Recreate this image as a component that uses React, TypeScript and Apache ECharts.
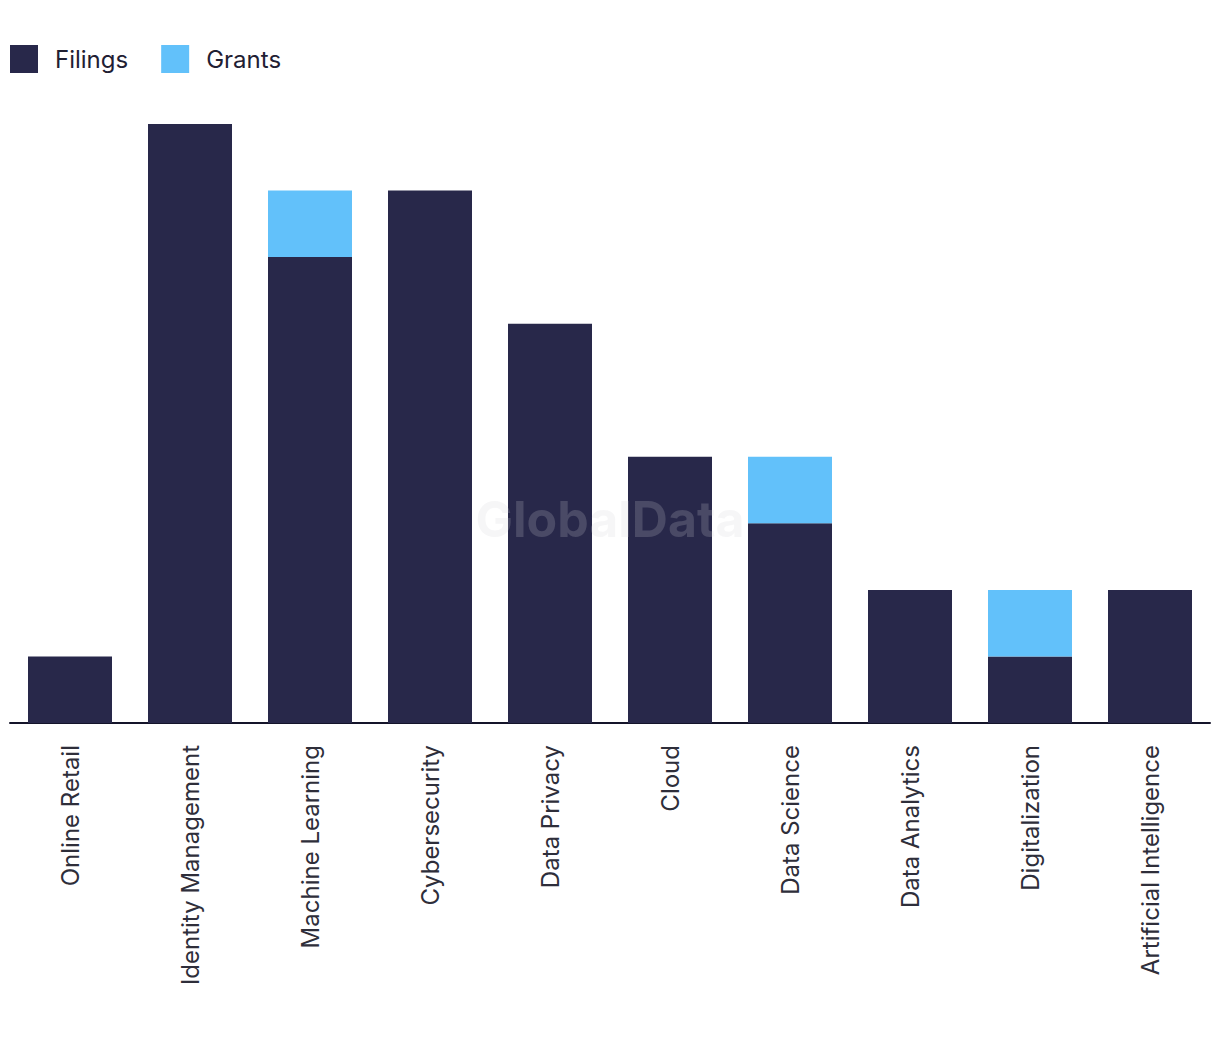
import React, { useEffect, useRef } from "react";
import * as echarts from "echarts";

const categories = [
  "Online Retail",
  "Identity Management",
  "Machine Learning",
  "Cybersecurity",
  "Data Privacy",
  "Cloud",
  "Data Science",
  "Data Analytics",
  "Digitalization",
  "Artificial Intelligence",
];
const filings = [1, 9, 7, 8, 6, 4, 3, 2, 1, 2];
const grants = [0, 0, 1, 0, 0, 0, 1, 0, 1, 0];

const FONT = "Inter, 'Liberation Sans', sans-serif";

export default function App() {
  const ref = useRef<HTMLDivElement>(null);
  useEffect(() => {
    document.body.style.margin = "0";
    const chart = echarts.init(ref.current!, null, { renderer: "svg" });
    chart.setOption({
      animation: false,
      backgroundColor: "#ffffff",
      legend: {
        left: 5,
        top: 40,
        itemWidth: 28,
        itemHeight: 28,
        itemGap: 33,
        icon: "rect",
        textStyle: { fontFamily: FONT, fontSize: 24, color: "#1f2033", padding: [0, 0, 0, 12] },
        data: ["Filings", "Grants"],
      },
      grid: { left: 10, right: 10, top: 124, bottom: 315, containLabel: false },
      xAxis: {
        type: "category",
        data: categories,
        axisLine: { lineStyle: { color: "#14142a", width: 2 } },
        axisTick: { show: false },
        axisLabel: {
          rotate: 90,
          margin: 22,
          fontFamily: FONT,
          fontSize: 24,
          color: "#2e2e3a",
          interval: 0,
        },
      },
      yAxis: {
        type: "value",
        min: 0,
        max: 9,
        interval: 1,
        show: false,
        splitLine: { show: false },
      },
      graphic: [
        {
          type: "text",
          left: "center",
          top: 494,
          z: 100,
          style: {
            text: "GlobalData",
            fontFamily: FONT,
            fontWeight: "bold",
            fontSize: 50,
            fill: "rgba(209,209,215,0.2)",
          },
        },
      ],
      series: [
        {
          name: "Filings",
          type: "bar",
          stack: "total",
          data: filings,
          barCategoryGap: "30%",
          itemStyle: { color: "#28284a" },
        },
        {
          name: "Grants",
          type: "bar",
          stack: "total",
          data: grants,
          barCategoryGap: "30%",
          itemStyle: { color: "#62c1fa" },
        },
      ],
    });
    return () => chart.dispose();
  }, []);
  return <div ref={ref} style={{ width: 1220, height: 1038 }} />;
}
